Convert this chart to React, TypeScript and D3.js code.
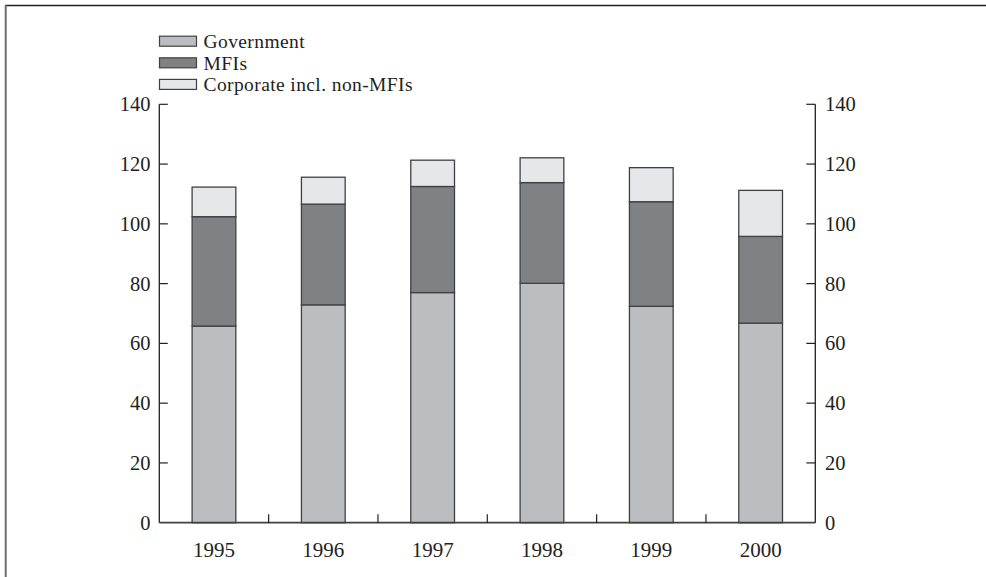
import React from "react";
import * as d3 from "d3";

const years = ["1995", "1996", "1997", "1998", "1999", "2000"];
const government = [65.8, 72.9, 77.0, 80.1, 72.4, 66.8];
const mfis = [36.6, 33.7, 35.5, 33.7, 35.0, 29.0];
const corporate = [9.9, 9.0, 8.8, 8.3, 11.4, 15.4];
const seriesNames = ["Government", "MFIs", "Corporate incl. non-MFIs"];
const seriesColors = ["#bcbdc0", "#808184", "#e6e7e8"];
const yTicks = [0, 20, 40, 60, 80, 100, 120, 140];

const W = 986;
const H = 577;
const FONT = "'Liberation Serif', 'Times New Roman', serif";

export default function App() {
  const x = d3.scaleBand<string>().domain(years).range([159.3, 815.3]).paddingInner(0.6).paddingOuter(0.3);
  const y = d3.scaleLinear().domain([0, 140]).range([522.7, 104.3]);
  const step = x.step();
  const x0 = 159.3;

  const table = years.map((yr, i) => ({ year: yr, Government: government[i], MFIs: mfis[i], "Corporate incl. non-MFIs": corporate[i] }));
  const stack = d3.stack<any>().keys(seriesNames)(table);

  const axisColor = "#231f20";

  return (
    <svg width={W} height={H} style={{ position: "absolute", left: 0, top: 0, background: "#fff" }} fontFamily={FONT}>
      {/* frame */}
      <line x1={5} y1={5.5} x2={W} y2={5.5} stroke="#231f20" strokeWidth={1.5} />
      <line x1={5.7} y1={5} x2={5.7} y2={H} stroke="#6d6e71" strokeWidth={2} />

      {/* legend */}
      {seriesNames.map((name, i) => {
        const cy = 41.2 + i * 21.6;
        return (
          <g key={name}>
            <rect x={159.5} y={cy - 5} width={37} height={10} fill={seriesColors[i]} stroke="#414042" strokeWidth={1.2} />
            <text x={203.5} y={cy} dy="0.36em" fontSize={19.5} letterSpacing={0.4} fill="#231f20">{name}</text>
          </g>
        );
      })}

      {/* bars */}
      {stack.map((s, si) => (
        <g key={s.key}>
          {s.map((d, i) => (
            <rect
              key={i}
              x={x(years[i])}
              width={x.bandwidth()}
              y={y(d[1])}
              height={y(d[0]) - y(d[1])}
              fill={seriesColors[si]}
              stroke="#414042"
              strokeWidth={1.3}
            />
          ))}
        </g>
      ))}

      {/* left axis */}
      <line x1={x0} y1={y(140)} x2={x0} y2={y(0)} stroke={axisColor} strokeWidth={1.3} />
      {yTicks.map((t) => (
        <g key={"l" + t}>
          {t > 0 && <line x1={x0} x2={x0 + 8.5} y1={y(t)} y2={y(t)} stroke={axisColor} strokeWidth={1.2} />}
          <text x={150.5} y={y(t)} dy="0.34em" textAnchor="end" fontSize={20.5} fill="#231f20">{t}</text>
        </g>
      ))}

      {/* right axis */}
      <line x1={815.3} y1={y(140)} x2={815.3} y2={y(0)} stroke={axisColor} strokeWidth={1.3} />
      {yTicks.map((t) => (
        <g key={"r" + t}>
          {t > 0 && <line x1={815.3 - 9} x2={815.3} y1={y(t)} y2={y(t)} stroke={axisColor} strokeWidth={1.2} />}
          <text x={825} y={y(t)} dy="0.34em" textAnchor="start" fontSize={20.5} fill="#231f20">{t}</text>
        </g>
      ))}

      {/* baseline and category ticks */}
      <line x1={x0} y1={y(0)} x2={815.3} y2={y(0)} stroke="#414042" strokeWidth={1.8} />
      {years.slice(1).map((yr, i) => {
        const xt = x0 + step * (i + 1);
        return <line key={yr} x1={xt} x2={xt} y1={y(0)} y2={y(0) - 8.5} stroke={axisColor} strokeWidth={1.2} />;
      })}
      {years.map((yr) => (
        <text key={yr} x={(x(yr) as number) + x.bandwidth() / 2} y={557} textAnchor="middle" fontSize={21} fill="#231f20">{yr}</text>
      ))}
    </svg>
  );
}
